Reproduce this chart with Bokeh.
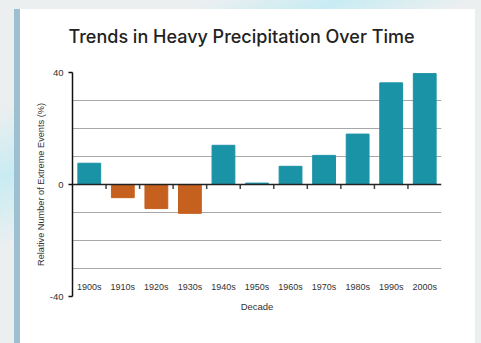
from bokeh.plotting import figure
from bokeh.models import FactorRange, Range1d, FixedTicker, Span, ColumnDataSource
from bokeh.embed import file_html
from bokeh.resources import INLINE

decades = ["1900s", "1910s", "1920s", "1930s", "1940s", "1950s",
           "1960s", "1970s", "1980s", "1990s", "2000s"]
values = [7.6, -4.7, -8.6, -10.3, 14.0, 0.5, 6.5, 10.4, 18.0, 36.3, 39.6]
y_ticks = [-40, 0, 40]
y_tick_labels = ["-40", "0", "40"]
grid_ticks = [-30, -20, -10, 10, 20, 30]

TEAL = "#1b93a6"
ORANGE = "#c6601e"
colors = [TEAL if v >= 0 else ORANGE for v in values]

src = ColumnDataSource(dict(x=decades, top=values, color=colors))

p = figure(x_range=FactorRange(*decades), y_range=Range1d(-40, 40),
           width=481, height=343, frame_width=369, frame_height=224,
           min_border_left=72, min_border_right=40, min_border_top=72,
           min_border_bottom=47,
           title="Trends in Heavy Precipitation Over Time",
           output_backend="svg", toolbar_location=None)
p.border_fill_alpha = 0
p.outline_line_color = None
p.background_fill_color = "white"
p.styles = {
    "background": (
        "linear-gradient(#ffffff, #ffffff) 20px 9px / 455px 334px no-repeat, "
        "linear-gradient(#9dc0d0, #9dc0d0) 14px 9px / 6px 334px no-repeat, "
        "linear-gradient(152deg, rgba(236,239,240,0) 18%, rgba(200,236,243,1) 30%, "
        "rgba(236,239,240,0) 42%) 0 0 / 481px 343px no-repeat, "
        "#eceff0"
    )
}

p.vbar(x="x", top="top", bottom=0, width=0.68, color="color", source=src)

# grid
p.xgrid.visible = False
p.ygrid.ticker = FixedTicker(ticks=grid_ticks)
p.ygrid.grid_line_color = "#a8a8a8"
p.ygrid.grid_line_width = 1

# zero line
p.add_layout(Span(location=0, dimension="width", line_color="#222222", line_width=1.5))

# boundary ticks below zero line
n = len(decades)
bounds = [float(i) for i in range(1, n)]
p.segment(x0=bounds, x1=bounds, y0=[0.0] * len(bounds), y1=[-1.6] * len(bounds),
          line_color="#444444", line_width=1.5)

# y axis
ya = p.yaxis[0]
ya.ticker = FixedTicker(ticks=y_ticks)
ya.major_label_overrides = dict(zip(y_ticks, y_tick_labels))
ya.axis_line_color = "#111111"
ya.axis_line_width = 1.5
ya.major_tick_out = 4
ya.major_tick_in = 0
ya.major_tick_line_color = "#111111"
ya.major_tick_line_width = 1.5
ya.minor_tick_line_color = None
ya.major_label_standoff = 5
ya.major_label_text_font = "Liberation Sans"
ya.major_label_text_font_size = "9.5px"
ya.major_label_text_color = "#333333"
ya.axis_label = "Relative Number of Extreme Events (%)"
ya.axis_label_text_font = "Liberation Sans"
ya.axis_label_text_font_size = "9.2px"
ya.axis_label_text_font_style = "normal"
ya.axis_label_text_color = "#333333"
ya.axis_label_standoff = 1

# x axis
xa = p.xaxis[0]
xa.axis_line_color = None
xa.major_tick_line_color = None
xa.minor_tick_line_color = None
xa.major_label_standoff = -21
xa.major_label_text_font = "Liberation Sans"
xa.major_label_text_font_size = "9px"
xa.major_label_text_color = "#333333"
xa.axis_label = "Decade"
xa.axis_label_text_font = "Liberation Sans"
xa.axis_label_text_font_size = "9.5px"
xa.axis_label_text_font_style = "normal"
xa.axis_label_text_color = "#333333"
xa.axis_label_standoff = 6

# title
t = p.title
t.align = "left"
t.offset = -4
t.vertical_align = "top"
t.text_font = "Inter Medium, Inter"
t.text_font_size = "18px"
t.text_font_style = "normal"
t.text_color = "#222222"
t.standoff = 47

open("out.html", "w").write(file_html(p, INLINE))
